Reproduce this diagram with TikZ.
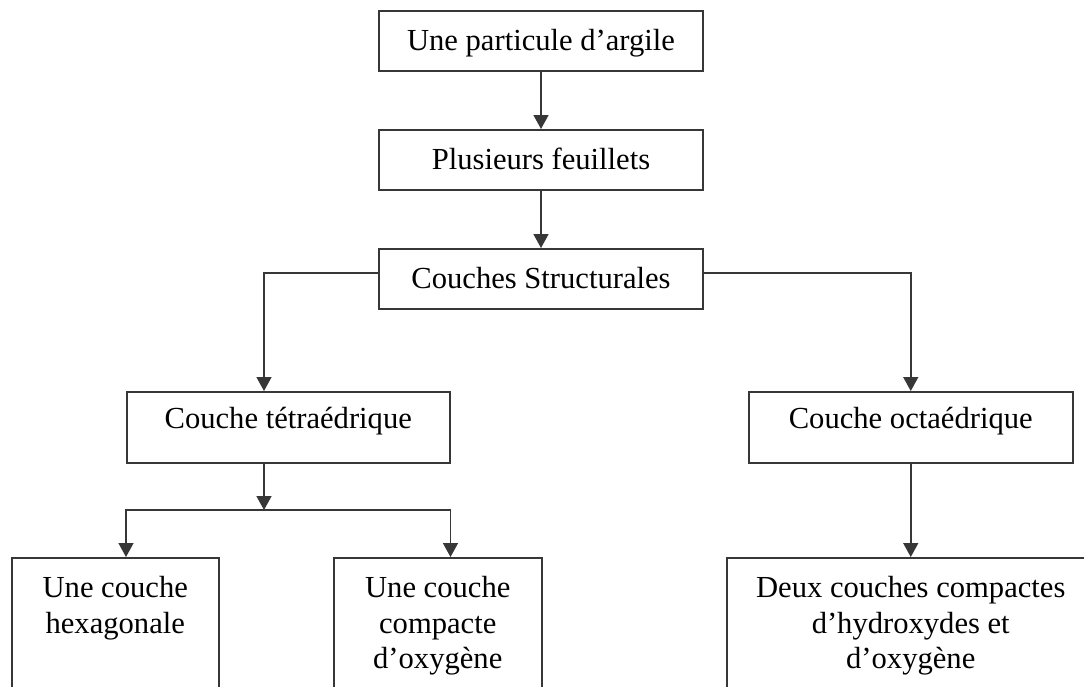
\documentclass[tikz,border=0pt]{standalone}
\usepackage{fontspec}
\setmainfont{Liberation Serif}
\usetikzlibrary{arrows.meta}
\definecolor{lc}{RGB}{55,55,55}
\begin{document}
\begin{tikzpicture}[x=1pt,y=-1pt,
  box/.style={draw=lc, line width=1.5pt, inner xsep=0pt, inner ysep=0pt,
    font=\fontsize{30.6}{35.5}\selectfont},
  arr/.style={draw=lc, line width=1.5pt, -{Triangle[width=15pt,length=14pt]}}]
\clip (0,0) rectangle (1084,686);
\fill[white] (0,0) rectangle (1084,686);
% top column
\node[box, anchor=north, minimum width=324pt, text height=40pt, text depth=20pt] (p) at (541,10) {Une particule d’argile};
\node[box, anchor=north, minimum width=324pt, text height=40pt, text depth=20pt] (f) at (541,129) {Plusieurs feuillets};
\node[box, anchor=north, minimum width=324pt, text height=40pt, text depth=20pt] (cs) at (541,248) {Couches Structurales};
% middle
\node[box, anchor=north west, minimum width=323pt, text height=37pt, text depth=34pt] (tet) at (126,391) {Couche tétraédrique};
\node[box, anchor=north west, minimum width=324pt, text height=37pt, text depth=34pt] (oct) at (748,391) {Couche octaédrique};
% bottom
\node[box, anchor=north west, text height=40pt, text depth=200pt] (hex) at (11,557)
  {\parbox[t]{207pt}{\centering Une couche\\hexagonale}};
\node[box, anchor=north west, text height=40pt, text depth=200pt] (comp) at (333,557)
  {\parbox[t]{208pt}{\centering Une couche\\compacte\\d’oxygène}};
\node[box, anchor=north west, text height=40pt, text depth=200pt] (deux) at (726,557)
  {\parbox[t]{368pt}{\centering Deux couches compactes\\d’hydroxydes et\\d’oxygène}};
% connectors
\coordinate (sp) at (264,510);
\draw[arr] (p.south) -- (f.north);
\draw[arr] (f.south) -- (cs.north);
\draw[arr] ([yshift=6pt]cs.west) -| (sp |- tet.north);
\draw[arr] ([yshift=6pt]cs.east) -| (oct.north);
\draw[arr] (oct.south) -- (oct.south |- deux.north);
\draw[arr] (sp |- tet.south) -- (sp);
\draw[arr] (sp) -| (tet.west |- hex.north);
\draw[arr] (sp) -| (tet.east |- comp.north);
\end{tikzpicture}
\end{document}
